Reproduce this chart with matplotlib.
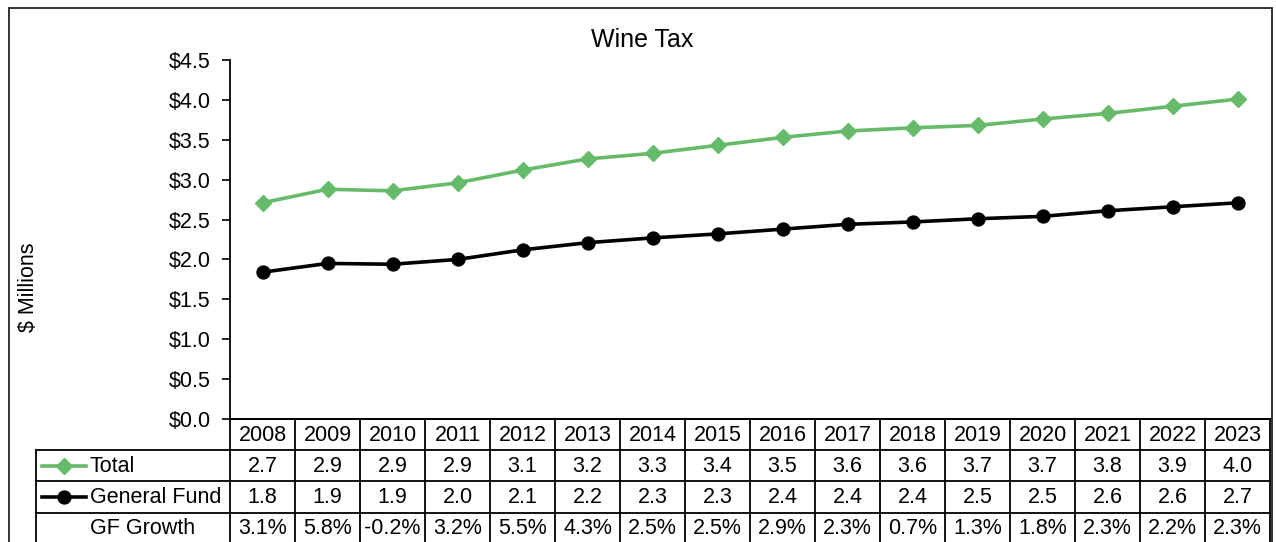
import matplotlib
matplotlib.use("Agg")
import matplotlib.pyplot as plt
from matplotlib.transforms import blended_transform_factory
from matplotlib.lines import Line2D
from matplotlib.patches import Rectangle

plt.rcParams['font.family'] = ['Liberation Sans', 'DejaVu Sans']

years = ['2008', '2009', '2010', '2011', '2012', '2013', '2014', '2015',
         '2016', '2017', '2018', '2019', '2020', '2021', '2022', '2023']
total = [2.71, 2.88, 2.86, 2.96, 3.12, 3.26, 3.33, 3.43,
         3.53, 3.61, 3.65, 3.68, 3.76, 3.83, 3.92, 4.01]
general_fund = [1.84, 1.95, 1.94, 2.00, 2.12, 2.21, 2.27, 2.32,
                2.38, 2.44, 2.47, 2.51, 2.54, 2.61, 2.66, 2.71]
total_labels = ['2.7', '2.9', '2.9', '2.9', '3.1', '3.2', '3.3', '3.4',
                '3.5', '3.6', '3.6', '3.7', '3.7', '3.8', '3.9', '4.0']
gf_labels = ['1.8', '1.9', '1.9', '2.0', '2.1', '2.2', '2.3', '2.3',
             '2.4', '2.4', '2.4', '2.5', '2.5', '2.6', '2.6', '2.7']
gf_growth = ['3.1%', '5.8%', '-0.2%', '3.2%', '5.5%', '4.3%', '2.5%', '2.5%',
             '2.9%', '2.3%', '0.7%', '1.3%', '1.8%', '2.3%', '2.2%', '2.3%']
row_names = ['Total', 'General Fund', 'GF Growth']

W, H = 1276, 542
GREEN = '#66BB6A'
FS = 15.5

fig = plt.figure(figsize=(W / 100, H / 100), dpi=100)

def fx(px):
    return px / W

def fy(py):
    return 1 - py / H

# outer border
fig.patches.append(Rectangle((fx(9), fy(560)), fx(1272) - fx(9), fy(8) - fy(560),
                             transform=fig.transFigure, fill=False,
                             edgecolor='#333333', linewidth=1.4))

ax = fig.add_axes([fx(230), fy(419), fx(1270) - fx(230), fy(60) - fy(419)])
x = list(range(len(years)))
ax.plot(x, total, color=GREEN, lw=2.6, marker='D', ms=8.5, mec=GREEN, mfc=GREEN)
ax.plot(x, general_fund, color='black', lw=2.6, marker='o', ms=9.3, mec='black', mfc='black')

ax.set_xlim(-0.5, len(years) - 0.5)
ax.set_ylim(0, 4.5)
yt = [i * 0.5 for i in range(10)]
ax.set_yticks(yt)
ax.set_yticklabels(['$%.1f' % v for v in yt], fontsize=FS)
ax.tick_params(axis='y', direction='out', length=6, width=1.2, pad=8)
ax.set_xticks([])
for s in ['top', 'right']:
    ax.spines[s].set_visible(False)
ax.spines['left'].set_linewidth(1.3)
ax.spines['bottom'].set_linewidth(1.3)

fig.text(fx(28), fy(287), '$ Millions', rotation=90, ha='center', va='center', fontsize=FS)
fig.text(fx(642), fy(40), 'Wine Tax', ha='center', va='center', fontsize=18)

# table
tr = blended_transform_factory(ax.transData, fig.transFigure)
row_lines = [419, 450, 481, 513]
row_centers = [435.5, 466, 497.5, 529]
lw = 1.3
for i, yl in enumerate(row_lines):
    x0 = fx(36) if i >= 1 else fx(230)
    fig.lines.append(Line2D([x0, fx(1270)], [fy(yl), fy(yl)], transform=fig.transFigure,
                            color='black', lw=lw))
for k in range(len(years) + 1):
    fig.lines.append(Line2D([k - 0.5, k - 0.5], [fy(419), fy(560)], transform=tr,
                            color='black', lw=lw, clip_on=False))
fig.lines.append(Line2D([fx(36), fx(36)], [fy(450), fy(560)], transform=fig.transFigure,
                        color='black', lw=lw))

rows = [total_labels, gf_labels, gf_growth]
for k, yr in enumerate(years):
    fig.text(k, fy(row_centers[0]), yr, transform=tr, ha='center', va='center', fontsize=FS)
    for r, vals in enumerate(rows):
        fig.text(k, fy(row_centers[r + 1]), vals[k], transform=tr, ha='center', va='center',
                 fontsize=FS)

# row labels with legend keys
fig.lines.append(Line2D([fx(42), fx(86)], [fy(465.5)] * 2, transform=fig.transFigure,
                        color=GREEN, lw=2.6))
fig.lines.append(Line2D([fx(64)], [fy(465.5)], transform=fig.transFigure, color=GREEN,
                        marker='D', ms=8.5, mec=GREEN, mfc=GREEN, lw=0))
fig.lines.append(Line2D([fx(42), fx(86)], [fy(497)] * 2, transform=fig.transFigure,
                        color='black', lw=2.6))
fig.lines.append(Line2D([fx(64)], [fy(497)], transform=fig.transFigure, color='black',
                        marker='o', ms=9.3, mec='black', mfc='black', lw=0))
fig.text(fx(90), fy(466), row_names[0], ha='left', va='center', fontsize=FS)
fig.text(fx(90), fy(497.5), row_names[1], ha='left', va='center', fontsize=FS)
fig.text(fx(90), fy(529), row_names[2], ha='left', va='center', fontsize=FS)

fig.savefig('out.png', dpi=100)
